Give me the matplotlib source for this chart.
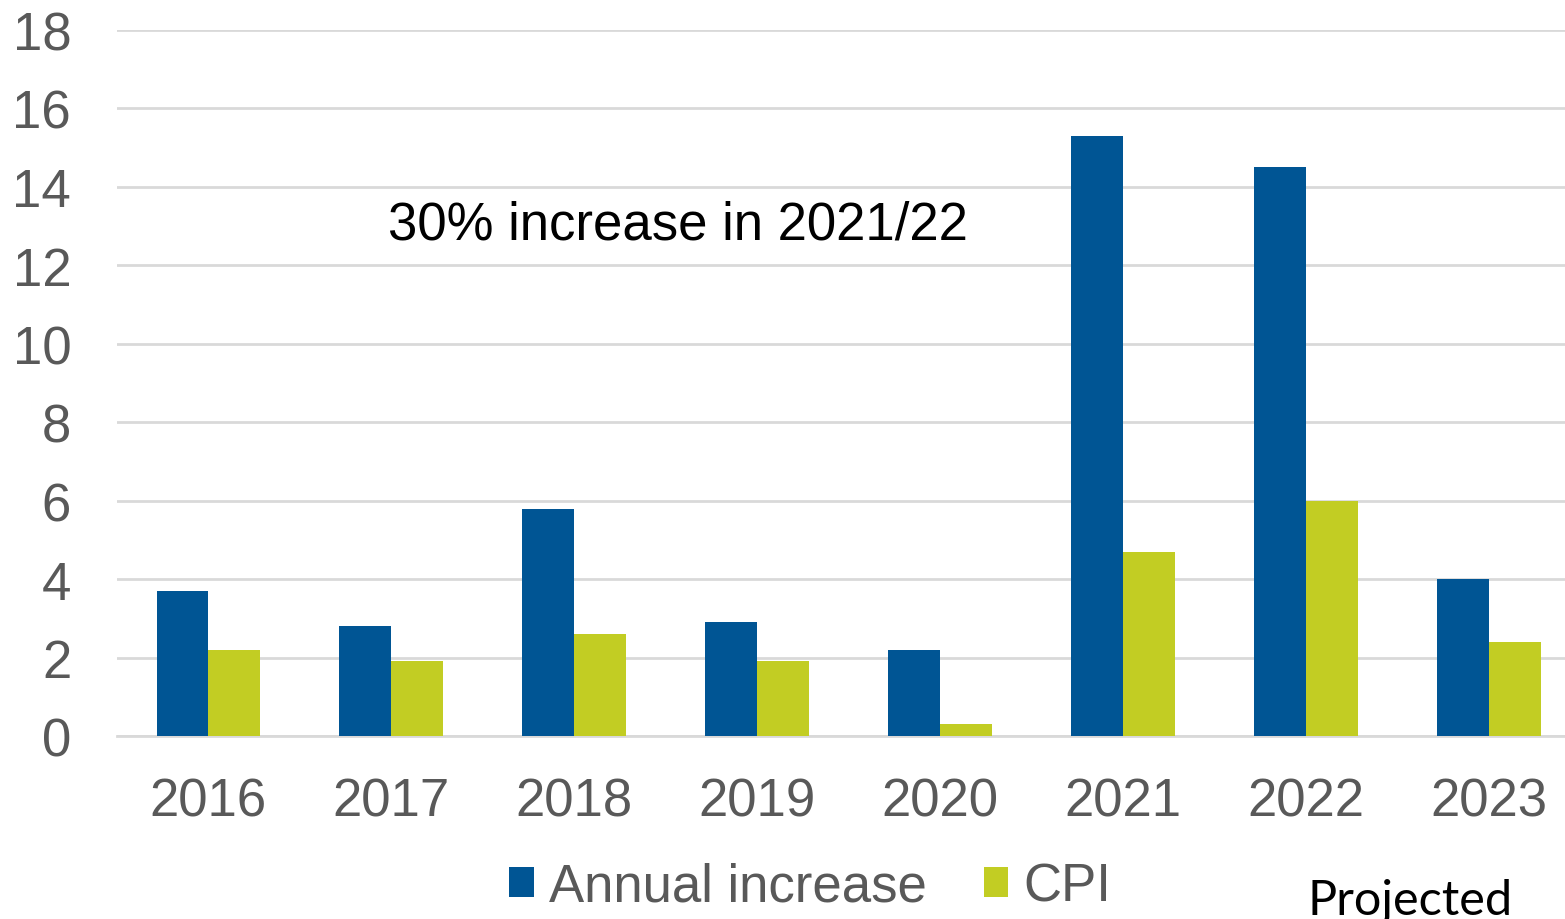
import numpy as np
import matplotlib
matplotlib.use("Agg")
import matplotlib.pyplot as plt

years = ["2016", "2017", "2018", "2019", "2020", "2021", "2022", "2023"]
annual_increase = [3.7, 2.8, 5.8, 2.9, 2.2, 15.3, 14.5, 4.0]
cpi = [2.2, 1.9, 2.6, 1.9, 0.3, 4.7, 6.0, 2.4]
yticks = [0, 2, 4, 6, 8, 10, 12, 14, 16, 18]

BLUE = "#005594"
GREEN = "#C2CD23"
GREY_TXT = "#595959"
GRID = "#D9D9D9"

plt.rcParams["font.family"] = ["Liberation Sans", "DejaVu Sans"]

fig = plt.figure(figsize=(15.65, 9.2), dpi=100)
ax = fig.add_axes([117 / 1565, 183 / 920, 1 - 117 / 1565, (737 - 31) / 920])

x = np.arange(len(years))
w = 0.284
ax.bar(x - w / 2, annual_increase, w, color=BLUE, label="Annual increase", zorder=3)
ax.bar(x + w / 2, cpi, w, color=GREEN, label="CPI", zorder=3)

ax.set_ylim(0, 18)
ax.set_xlim(-0.5, 7.415)
ax.set_yticks(yticks)
ax.set_xticks(x)
ax.set_xticklabels(years)
ax.yaxis.grid(True, color=GRID, linewidth=2, zorder=0)
ax.set_axisbelow(True)
for s in ["top", "right", "left"]:
    ax.spines[s].set_visible(False)
ax.spines["bottom"].set_color(GRID)
ax.spines["bottom"].set_linewidth(2)
ax.tick_params(axis="both", length=0, labelsize=38, labelcolor=GREY_TXT)
ax.tick_params(axis="y", pad=33)
ax.tick_params(axis="x", pad=29)

ax.text(0.984, 13.05, "30% increase in 2021/22", fontsize=38, color="black",
        va="center", ha="left")

leg = fig.legend(loc="center", bbox_to_anchor=(0.5176, 0.035), ncol=2,
                 frameon=False, fontsize=38, handlelength=0.47, handleheight=0.47,
                 handletextpad=0.28, columnspacing=1.08, labelcolor=GREY_TXT,
                 borderpad=0, borderaxespad=0)

fig.text(0.901, 0.021, "Projected", fontsize=35, color="black", family="Lato",
         ha="center", va="center")

fig.savefig("out.png", dpi=100)
